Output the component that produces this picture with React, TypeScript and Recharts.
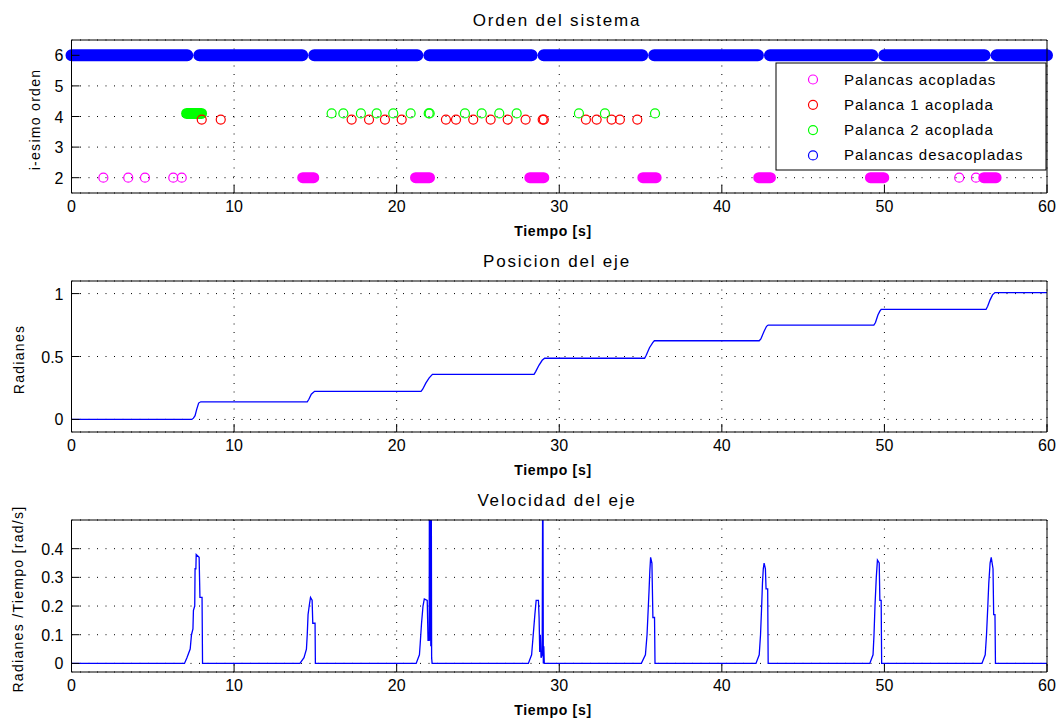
import React from 'react';
import { ComposedChart, Line, Scatter, XAxis, YAxis, CartesianGrid } from 'recharts';

const FONT = '"Liberation Sans", Arial, Helvetica, sans-serif';
const AZUL = '#0000ff';
const MAGENTA = '#ff00ff';
const ROJO = '#ff0000';
const VERDE = '#00ff00';

// eje de tiempo común a las tres gráficas
const tiempoTicks = [0, 10, 20, 30, 40, 50, 60];

// --- Orden del sistema ---
const ordenTicks = [2, 3, 4, 5, 6];
const nivelDesacopladas = 6;
const nivelAcopladas = 2;
const nivelPalanca1 = 3.9;
const nivelPalanca2 = 4.1;

// tramos [inicio, fin] donde las muestras se solapan formando una banda
const desacopladasTramos = [
  [0, 7.12], [7.86, 14.19], [14.93, 21.27], [22.01, 28.3], [29.04, 35.1],
  [35.84, 42.22], [42.96, 49.25], [49.99, 56.16], [56.9, 60],
];
const acopladasTramos = [
  [14.22, 14.9], [21.16, 22.02], [28.19, 29.05], [35.14, 35.96],
  [42.27, 42.99], [49.14, 49.96], [56.11, 56.87],
];
const palanca2Tramos = [[7.08, 8.0]];

// muestras aisladas
const acopladasSueltas = [1.96, 3.49, 4.52, 6.26, 6.78, 54.6, 55.63];
const palanca1Sueltas = [
  8.01, 9.18, 17.23, 18.3, 19.28, 20.31, 23.03, 23.65, 24.71, 25.78, 26.83,
  27.93, 28.98, 29.05, 31.64, 32.3, 33.22, 33.73, 34.8,
];
const palanca2Sueltas = [
  16.0, 16.72, 17.8, 18.77, 19.79, 20.86, 21.97, 22.03, 24.2, 25.23, 26.31,
  27.38, 31.21, 32.81, 35.89,
];

const leyenda = [
  { nombre: 'Palancas acopladas', color: MAGENTA },
  { nombre: 'Palanca 1 acoplada', color: ROJO },
  { nombre: 'Palanca 2 acoplada', color: VERDE },
  { nombre: 'Palancas desacopladas', color: AZUL },
];

// --- Posicion del eje [t, rad] ---
const posicionTicks = [0, 0.5, 1];
const posicion = [
  [0, 0], [7.4, 0], [7.5, 0.01], [7.6, 0.03], [7.7, 0.08], [7.82, 0.13], [7.95, 0.14],
  [14.5, 0.14], [14.6, 0.16], [14.75, 0.2], [14.95, 0.223],
  [21.5, 0.223], [21.6, 0.24], [21.8, 0.29], [22.0, 0.33], [22.2, 0.358],
  [28.45, 0.358], [28.55, 0.38], [28.75, 0.43], [28.95, 0.47], [29.1, 0.486],
  [35.25, 0.486], [35.35, 0.51], [35.55, 0.57], [35.75, 0.61], [35.85, 0.625],
  [42.3, 0.625], [42.4, 0.64], [42.6, 0.7], [42.75, 0.74], [42.85, 0.75],
  [49.35, 0.75], [49.45, 0.77], [49.6, 0.83], [49.72, 0.86], [49.8, 0.874],
  [56.25, 0.874], [56.35, 0.9], [56.5, 0.95], [56.65, 0.99], [56.8, 1.008],
  [60, 1.008],
];

// --- Velocidad del eje [t, rad/s] ---
const velocidadTicks = [0, 0.1, 0.2, 0.3, 0.4];
const velocidad = [
  [0, 0],
  [6.95, 0], [7.1, 0.02], [7.3, 0.05], [7.38, 0.1], [7.47, 0.12], [7.5, 0.185], [7.58, 0.2],
  [7.6, 0.33], [7.65, 0.33], [7.67, 0.38], [7.85, 0.37], [7.9, 0.23], [8.03, 0.23], [8.06, 0],
  [14.05, 0], [14.3, 0.02], [14.45, 0.05], [14.5, 0.1], [14.55, 0.17], [14.62, 0.2],
  [14.7, 0.23], [14.8, 0.22], [14.84, 0.14], [14.98, 0.14], [15.0, 0],
  [21.2, 0], [21.4, 0.03], [21.45, 0.07], [21.53, 0.14], [21.62, 0.2], [21.7, 0.225],
  [21.88, 0.22], [21.93, 0.08], [22.0, 0.08], [22.02, 0.9], [22.05, 0.08], [22.07, 0.9],
  [22.1, 0.06], [22.12, 0.9], [22.15, 0.02], [22.18, 0],
  [28.1, 0], [28.3, 0.03], [28.4, 0.1], [28.5, 0.17], [28.58, 0.22], [28.72, 0.22],
  [28.76, 0.16], [28.8, 0.04], [28.84, 0.1], [28.88, 0.02], [28.95, 0.03], [28.99, 0.8],
  [29.02, 0], [29.05, 0.06], [29.08, 0],
  [35.05, 0], [35.3, 0.03], [35.4, 0.1], [35.48, 0.2], [35.52, 0.25], [35.57, 0.32],
  [35.62, 0.37], [35.7, 0.35], [35.76, 0.16], [35.86, 0.16], [35.89, 0],
  [42.1, 0], [42.3, 0.03], [42.38, 0.1], [42.45, 0.2], [42.5, 0.28], [42.55, 0.33],
  [42.6, 0.35], [42.68, 0.33], [42.72, 0.26], [42.82, 0.26], [42.85, 0],
  [49.1, 0], [49.3, 0.03], [49.36, 0.1], [49.42, 0.2], [49.5, 0.3], [49.57, 0.36],
  [49.68, 0.35], [49.72, 0.22], [49.8, 0.22], [49.83, 0],
  [56.0, 0], [56.2, 0.03], [56.28, 0.1], [56.36, 0.2], [56.42, 0.28], [56.5, 0.35],
  [56.57, 0.37], [56.68, 0.33], [56.72, 0.17], [56.8, 0.17], [56.83, 0],
  [60, 0],
];

// helpers de datos
const aPuntos = (pares: number[][]) => pares.map(([t, v]) => ({ t, v }));
const aMuestras = (ts: number[], v: number) => ts.map((t) => ({ t, v }));
const aBanda = (tramos: number[][], v: number) =>
  tramos.flatMap(([a, b]) => [{ t: a, v }, { t: b, v }, { t: b, v: null }]);

// marcas de los ejes hacia dentro, estilo matlab
const MARCA = 8;
const txt = { fontFamily: FONT, fill: '#000' };

const TickAbajo = (p: any) => (
  <g>
    <line x1={p.x} y1={p.y} x2={p.x} y2={p.y - MARCA} stroke="#000" />
    <text x={p.x} y={p.y + 19} textAnchor="middle" fontSize={16} {...txt}>
      {p.payload.value}
    </text>
  </g>
);
const TickArriba = (p: any) => <line x1={p.x} y1={p.y} x2={p.x} y2={p.y + MARCA} stroke="#000" />;
const TickIzq = (p: any) => (
  <g>
    <line x1={p.x} y1={p.y} x2={p.x + MARCA} y2={p.y} stroke="#000" />
    <text x={p.x - 8} y={p.y + 6} textAnchor="end" fontSize={16} {...txt}>
      {p.payload.value}
    </text>
  </g>
);
const TickDer = (p: any) => <line x1={p.x} y1={p.y} x2={p.x - MARCA} y2={p.y} stroke="#000" />;

const SUP = 30;
const EJE_X = 50;

function Panel({ top, bottom, domain, ticks, recortar, children }: any) {
  const alto = SUP + (bottom - top) + EJE_X;
  return (
    <div style={{ position: 'absolute', left: 0, top: top - SUP }}>
      <ComposedChart width={1060} height={alto} margin={{ top: SUP - 1, right: 12, bottom: 0, left: 21.5 }}>
        <CartesianGrid stroke="#000" strokeDasharray="1 7.5" />
        <XAxis
          dataKey="t" type="number" domain={[0, 60]} ticks={tiempoTicks} interval={0}
          height={EJE_X} tickSize={0} tickMargin={0} tickLine={false}
          axisLine={{ stroke: '#000' }} tick={TickAbajo}
        />
        <XAxis
          xAxisId="arriba" orientation="top" type="number" domain={[0, 60]} ticks={tiempoTicks}
          interval={0} height={1} tickSize={0} tickMargin={0} tickLine={false}
          axisLine={{ stroke: '#000' }} tick={TickArriba}
        />
        <YAxis
          dataKey="v" type="number" domain={domain} ticks={ticks} interval={0} width={50}
          allowDataOverflow={recortar} tickSize={0} tickMargin={0} tickLine={false}
          axisLine={{ stroke: '#000' }} tick={TickIzq}
        />
        <YAxis
          yAxisId="der" orientation="right" type="number" domain={domain} ticks={ticks} interval={0}
          width={1} tickSize={0} tickMargin={0} tickLine={false}
          axisLine={{ stroke: '#000' }} tick={TickDer}
        />
        {children}
      </ComposedChart>
    </div>
  );
}

const circulo = (color: string) => (p: any) => (
  <circle cx={p.cx} cy={p.cy} r={4.5} fill="none" stroke={color} strokeWidth={1.2} />
);

const banda = (data: any[], color: string, grosor: number) => (
  <Line
    data={data} dataKey="v" stroke={color} strokeWidth={grosor} strokeLinecap="round"
    dot={false} activeDot={false} connectNulls={false} isAnimationActive={false}
  />
);

export default function App() {
  const paneles = [
    { top: 40, bottom: 193, titulo: 'Orden del sistema', ylabel: 'i-esimo orden', yx: 40 },
    { top: 281, bottom: 432, titulo: 'Posicion del eje', ylabel: 'Radianes', yx: 24 },
    { top: 520, bottom: 672, titulo: 'Velocidad del eje', ylabel: 'Radianes /Tiempo [rad/s]', yx: 23 },
  ];
  const cx = 557;

  return (
    <div style={{ position: 'absolute', left: 0, top: 0, width: 1060, height: 723, background: '#fff' }}>
      <Panel top={40} bottom={193} domain={[1.5, 6.5]} ticks={ordenTicks}>
        {banda(aBanda(desacopladasTramos, nivelDesacopladas), AZUL, 12)}
        {banda(aBanda(acopladasTramos, nivelAcopladas), MAGENTA, 11)}
        {banda(aBanda(palanca2Tramos, nivelPalanca2), VERDE, 11)}
        <Scatter data={aMuestras(acopladasSueltas, nivelAcopladas)} dataKey="v" shape={circulo(MAGENTA)} isAnimationActive={false} />
        <Scatter data={aMuestras(palanca1Sueltas, nivelPalanca1)} dataKey="v" shape={circulo(ROJO)} isAnimationActive={false} />
        <Scatter data={aMuestras(palanca2Sueltas, nivelPalanca2)} dataKey="v" shape={circulo(VERDE)} isAnimationActive={false} />
      </Panel>

      <Panel top={281} bottom={432} domain={[-0.1, 1.1]} ticks={posicionTicks}>
        <Line data={aPuntos(posicion)} dataKey="v" stroke={AZUL} strokeWidth={1.3} dot={false} activeDot={false} isAnimationActive={false} />
      </Panel>

      <Panel top={520} bottom={672} domain={[-0.03, 0.5]} ticks={velocidadTicks} recortar>
        <Line data={aPuntos(velocidad)} dataKey="v" stroke={AZUL} strokeWidth={1.3} dot={false} activeDot={false} isAnimationActive={false} />
      </Panel>

      <svg width={1060} height={723} style={{ position: 'absolute', left: 0, top: 0, pointerEvents: 'none' }}>
        {paneles.map((p) => {
          const yc = (p.top + p.bottom) / 2 + 3;
          return (
            <g key={p.titulo}>
              <text x={cx} y={p.top - 14} textAnchor="middle" fontSize={17} letterSpacing={1.8} {...txt}>
                {p.titulo}
              </text>
              <text x={553} y={p.bottom + 43} textAnchor="middle" fontSize={14} fontWeight="bold" letterSpacing={0.7} {...txt}>
                Tiempo [s]
              </text>
              <text
                x={p.yx} y={yc} textAnchor="middle" fontSize={14} letterSpacing={1.3}
                transform={`rotate(-90 ${p.yx} ${yc})`} {...txt}
              >
                {p.ylabel}
              </text>
            </g>
          );
        })}

        <g transform="translate(776 63)">
          <rect x={0} y={0} width={270} height={107} fill="#fff" stroke="#000" />
          {leyenda.map((l, i) => (
            <g key={l.nombre}>
              <circle cx={37} cy={16.5 + i * 25.3} r={4.5} fill="none" stroke={l.color} strokeWidth={1.2} />
              <text x={68} y={16.5 + i * 25.3 + 5} fontSize={15} letterSpacing={1} {...txt}>
                {l.nombre}
              </text>
            </g>
          ))}
        </g>
      </svg>
    </div>
  );
}
